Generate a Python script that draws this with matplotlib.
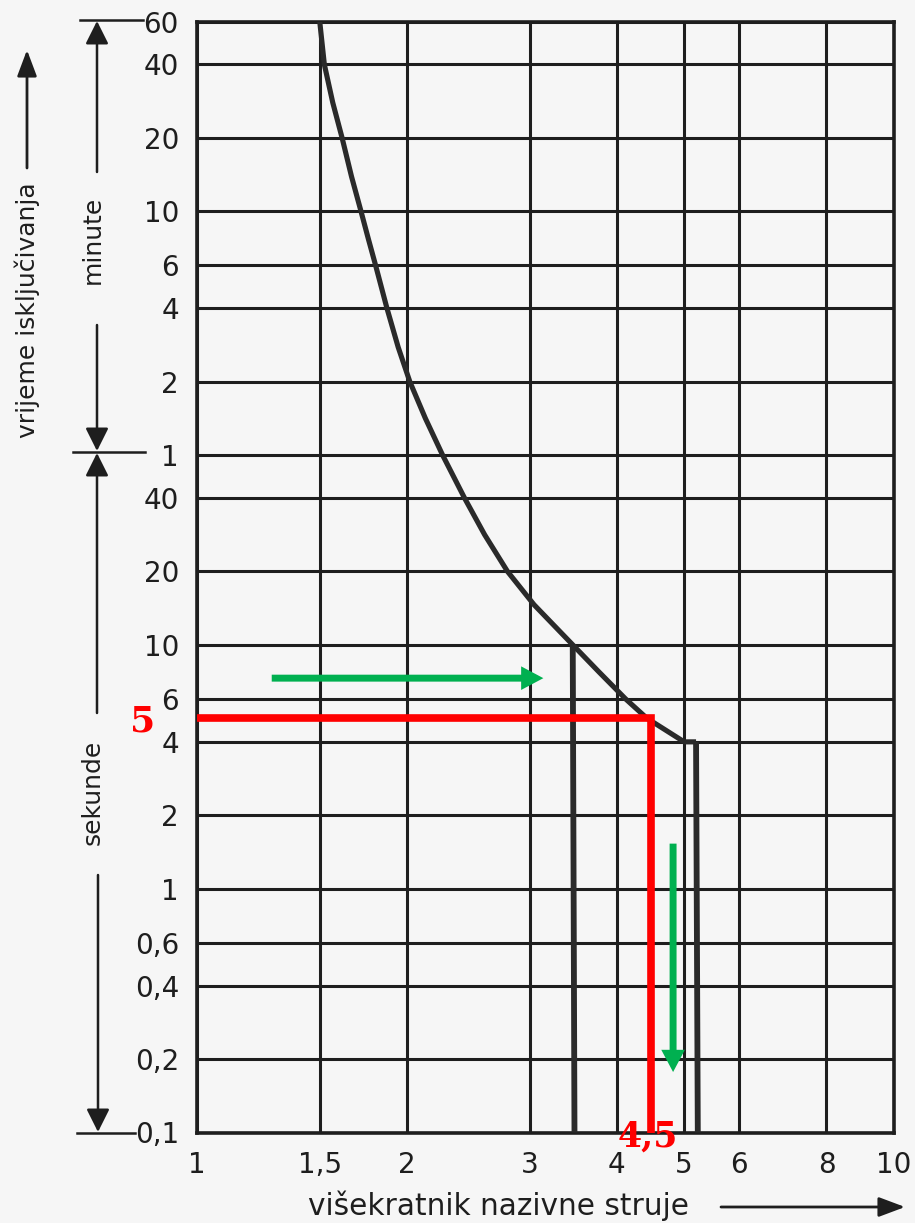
import matplotlib
matplotlib.use('Agg')
import matplotlib.pyplot as plt
from matplotlib.ticker import NullLocator, FixedLocator, FixedFormatter
from matplotlib.patches import FancyArrowPatch
from matplotlib.lines import Line2D

W, H = 915, 1223

# ---- data ----
x_ticks = [1, 1.5, 2, 3, 4, 5, 6, 8, 10]
x_tick_labels = ["1", "1,5", "2", "3", "4", "5", "6", "8", "10"]
y_ticks = [3600, 2400, 1200, 600, 360, 240, 120, 60, 40, 20, 10, 6, 4, 2, 1, 0.6, 0.4, 0.2, 0.1]
y_tick_labels = ["60", "40", "20", "10", "6", "4", "2", "1", "40", "20", "10", "6", "4", "2",
                 "1", "0,6", "0,4", "0,2", "0,1"]

# time-current curve (multiple of rated current, seconds)
curve_x = [1.50, 1.523, 1.566, 1.615, 1.666, 1.719, 1.761, 1.804, 1.873, 1.944, 2.020,
           2.126, 2.251, 2.420, 2.586, 2.789, 3.045, 3.46, 3.773, 4.12, 4.42, 5.0, 5.2]
curve_t = [3600, 2400, 1673, 1200, 833, 600, 463, 360, 240, 166, 120,
           85, 60, 40, 28.3, 20, 14.6, 10, 7.74, 6, 5.0, 4.0, 4.0]
drop1_x = [3.46, 3.48]
drop1_t = [10, 0.1]
drop2_x = [5.2, 5.23]
drop2_t = [4.0, 0.1]

red_x = [1.0, 4.48, 4.48]
red_t = [5, 5, 0.1]
green_h_x = [1.28, 3.14]
green_h_t = [7.3, 7.3]
green_v_x = [4.82, 4.82]
green_v_t = [1.53, 0.177]

# ---- figure ----
bg = '#f6f6f6'
ink = '#1e1e1e'
fig = plt.figure(figsize=(W / 100, H / 100), dpi=100, facecolor=bg)
ax = fig.add_axes([197 / W, 1 - 1132.5 / H, (894 - 197) / W, (1132.5 - 21.5) / H])
ax.set_facecolor(bg)
ax.set_xscale('log')
ax.set_yscale('log')
ax.set_xlim(1, 10)
ax.set_ylim(0.1, 3600)

ax.xaxis.set_major_locator(FixedLocator(x_ticks))
ax.xaxis.set_major_formatter(FixedFormatter(x_tick_labels))
ax.yaxis.set_major_locator(FixedLocator(y_ticks))
ax.yaxis.set_major_formatter(FixedFormatter(y_tick_labels))
ax.xaxis.set_minor_locator(NullLocator())
ax.yaxis.set_minor_locator(NullLocator())
ax.tick_params(axis='both', length=0, pad=13, labelsize=20, labelcolor=ink)
for lab in ax.get_xticklabels() + ax.get_yticklabels():
    lab.set_family('DejaVu Sans')
ax.grid(True, which='major', color=ink, lw=2.2)
for s in ax.spines.values():
    s.set_color(ink)
    s.set_linewidth(2.6)

# curve and vertical limits
ax.plot(curve_x, curve_t, color='#2a2a2a', lw=3.7, zorder=3, solid_capstyle='butt',
        solid_joinstyle='round')
ax.plot(drop1_x, drop1_t, color='#2a2a2a', lw=4.2, zorder=3, solid_capstyle='butt')
ax.plot(drop2_x, drop2_t, color='#2a2a2a', lw=4.2, zorder=3, solid_capstyle='butt')

# red reading lines
ax.plot(red_x, red_t, color='#ff0000', lw=5.5, zorder=4, solid_joinstyle='miter',
        solid_capstyle='butt', clip_on=False)

# green arrows
for xs, ts in ((green_h_x, green_h_t), (green_v_x, green_v_t)):
    arr = FancyArrowPatch((xs[0], ts[0]), (xs[1], ts[1]),
                          arrowstyle='simple,head_length=16,head_width=17,tail_width=5',
                          mutation_scale=1, color='#00b050', lw=0, zorder=5,
                          shrinkA=0, shrinkB=0)
    ax.add_patch(arr)


def P(x, y):
    return (x / W, 1 - y / H)


# red labels
fig.text(*P(143, 722), "5", family='DejaVu Serif', weight='bold', size=26,
         color='#ff0000', ha='center', va='center')
fig.text(*P(648, 1137), "4,5", family='DejaVu Serif', weight='bold', size=25,
         color='#ff0000', ha='center', va='center', zorder=6)


# left side annotations
def line(x0, y0, x1, y1, lw=1.8):
    fig.add_artist(Line2D([x0 / W, x1 / W], [1 - y0 / H, 1 - y1 / H],
                          transform=fig.transFigure, color=ink, lw=lw))


def arrow(x0, y0, x1, y1, lw=1.8, hl=14, hw=7):
    fig.add_artist(FancyArrowPatch(P(x0, y0), P(x1, y1), transform=fig.transFigure,
                                   arrowstyle=f'-|>,head_length={hl/10},head_width={hw/10}',
                                   mutation_scale=10, color=ink, lw=lw,
                                   shrinkA=0, shrinkB=0))


label_font = dict(family='DejaVu Sans', size=18, color=ink)
fig.text(*P(27, 310), "vrijeme isključivanja", rotation=90, ha='center', va='center', **label_font)
arrow(27, 168, 27, 50, lw=2.0, hl=16, hw=6)

fig.text(*P(93, 240), "minute", rotation=90, ha='center', va='center', **label_font)
fig.text(*P(93, 792), "sekunde", rotation=90, ha='center', va='center', **label_font)

line(80, 20, 143, 20)
line(73, 452, 145, 452)
line(77, 1133, 135, 1133)

arrow(97, 172, 97, 21)
arrow(97, 325, 97, 451)
arrow(97, 713, 97, 453)
arrow(98, 875, 98, 1132)

# x label
fig.text(*P(499, 1206), "višekratnik nazivne struje", ha='center', va='center',
         family='DejaVu Sans', size=21.3, color=ink)
arrow(721, 1207, 905, 1207, lw=2.0, hl=16, hw=6)

fig.savefig('out.png', dpi=100, facecolor=bg)
